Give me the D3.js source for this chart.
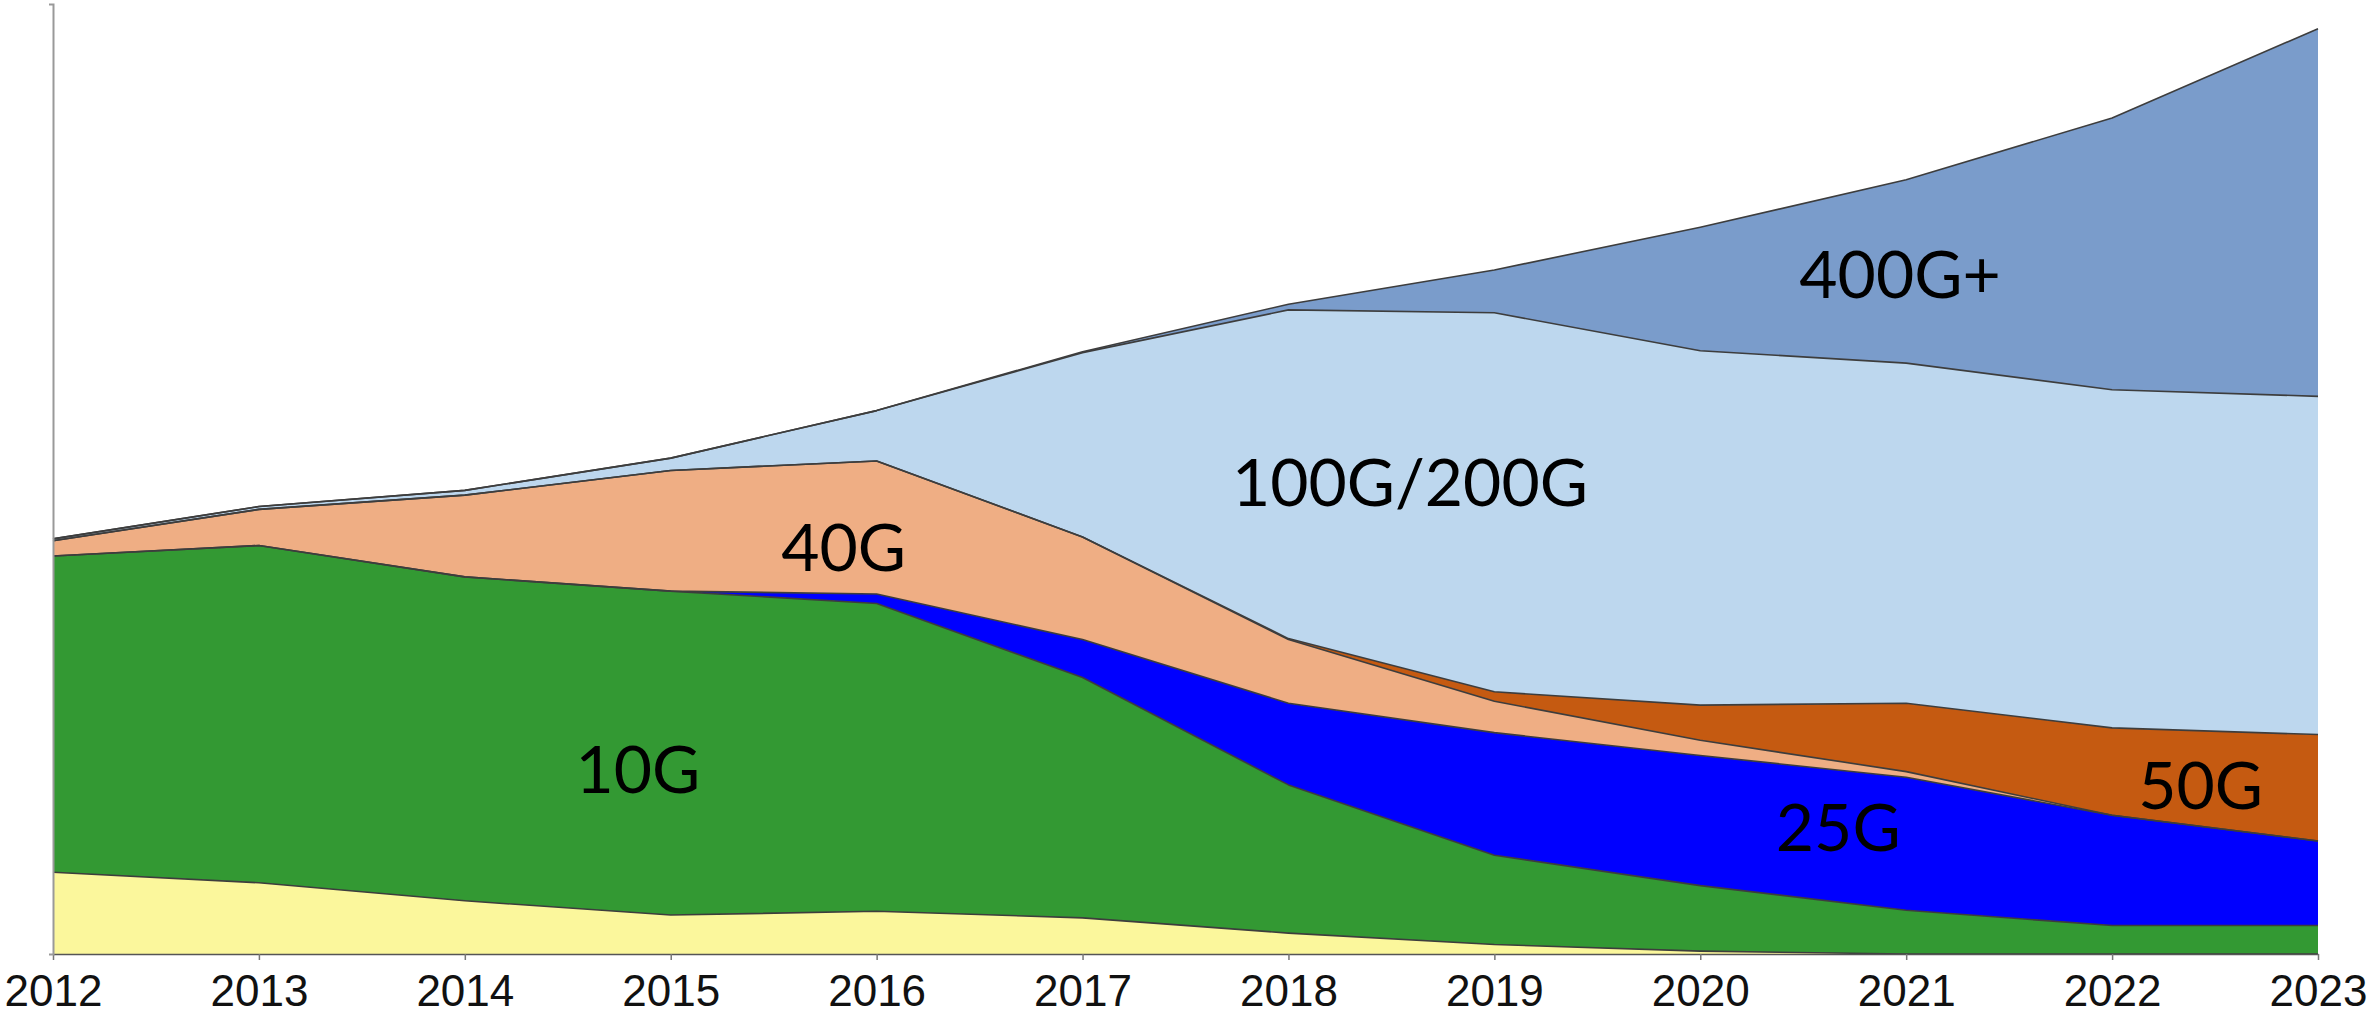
<!DOCTYPE html>
<html>
<head>
<meta charset="utf-8">
<script src="https://cdn.jsdelivr.net/npm/d3@7/dist/d3.min.js"></script>
<style>
  html, body { margin: 0; padding: 0; background: #ffffff; }
  svg { display: block; }
</style>
</head>
<body>
<svg id="chart" width="2371" height="1016"></svg>
<script>
// Port shipments by speed, stacked (share of axis height)
const years   = [2012, 2013, 2014, 2015, 2016, 2017, 2018, 2019, 2020, 2021, 2022, 2023];
const sub10G  = [8.6, 7.5, 5.6, 4.1, 4.5, 3.8, 2.2, 1.0, 0.3, 0.0, 0.0, 0.0];
const g10     = [33.3, 35.5, 34.1, 34.1, 32.4, 25.3, 15.6, 9.4, 6.9, 4.6, 3.0, 3.0];
const g25     = [0.0, 0.0, 0.0, 0.0, 1.0, 4.0, 8.6, 12.9, 13.7, 14.0, 11.6, 8.9];
const g40     = [1.6, 3.8, 8.6, 12.7, 14.0, 10.8, 6.7, 3.3, 1.6, 0.6, 0.0, 0.0];
const g50     = [0.0, 0.0, 0.0, 0.0, 0.0, 0.0, 0.1, 1.0, 3.7, 7.2, 9.2, 11.2];
const g100    = [0.2, 0.3, 0.5, 1.3, 5.3, 19.4, 34.6, 39.9, 37.3, 35.8, 35.6, 35.6];
const g400    = [0.0, 0.0, 0.0, 0.0, 0.0, 0.1, 0.6, 4.5, 13.0, 19.3, 28.6, 38.7];

const seriesKeys   = ["sub10G", "10G", "25G", "40G", "50G", "100G/200G", "400G+"];
const seriesValues = [sub10G, g10, g25, g40, g50, g100, g400];
const seriesColors = ["#fbf79c", "#339933", "#0000ff", "#efae84", "#c55a11", "#bdd7ee", "#7a9ccb"];

// In-band labels: text, anchor year, anchor value
const bandLabels = [
  { text: "400G+",     year: 2020.97, value: 71.6 },
  { text: "100G/200G", year: 2018.59, value: 49.7 },
  { text: "40G",       year: 2015.84, value: 42.8 },
  { text: "10G",       year: 2014.84, value: 19.4 },
  { text: "25G",       year: 2020.67, value: 13.3 },
  { text: "50G",       year: 2022.43, value: 17.8 }
];

const rows = years.map((yr, i) => {
  const r = { year: yr };
  seriesKeys.forEach((k, j) => { r[k] = seriesValues[j][i]; });
  return r;
});

const svg = d3.select("#chart");

const x = d3.scaleLinear().domain([2012, 2023]).range([53, 2318]);
const y = d3.scaleLinear().domain([0, 100]).range([954, 4]);

const stacked = d3.stack().keys(seriesKeys)(rows);

const area = d3.area()
  .x(d => x(d.data.year))
  .y0(d => y(d[0]))
  .y1(d => y(d[1]));

const topLine = d3.line()
  .x(d => x(d.data.year))
  .y(d => y(d[1]));

const plot = svg.append("g");

plot.selectAll("path.band")
  .data(stacked)
  .join("path")
  .attr("class", "band")
  .attr("d", area)
  .attr("fill", (d, i) => seriesColors[i]);

plot.selectAll("path.edge")
  .data(stacked)
  .join("path")
  .attr("class", "edge")
  .attr("d", topLine)
  .attr("fill", "none")
  .attr("stroke", "#3d3d3d")
  .attr("stroke-width", 1.6)
  .attr("stroke-linejoin", "round");

// Axes
const xAxis = d3.axisBottom(x)
  .tickValues(years)
  .tickFormat(d3.format("d"))
  .tickSize(6)
  .tickSizeOuter(0)
  .tickPadding(15);

const gx = svg.append("g")
  .attr("transform", `translate(0,${y(0)})`)
  .call(xAxis);
gx.select(".domain").attr("stroke", "#555").attr("stroke-width", 1.5);
gx.selectAll(".tick line").attr("stroke", "#777").attr("stroke-width", 1.5);
gx.selectAll(".tick text")
  .attr("fill", "#111")
  .attr("font-family", "'Liberation Sans', Arial, Helvetica, sans-serif")
  .attr("font-size", 44);

const yAxis = d3.axisLeft(y).tickValues([]).tickSizeOuter(4);
const gy = svg.append("g")
  .attr("transform", `translate(${x(2012)},0)`)
  .call(yAxis);
gy.select(".domain").attr("stroke", "#999").attr("stroke-width", 2);

// Band labels
svg.append("g")
  .selectAll("text")
  .data(bandLabels)
  .join("text")
  .attr("x", d => x(d.year))
  .attr("y", d => y(d.value))
  .attr("dy", "0.36em")
  .attr("text-anchor", "middle")
  .attr("font-family", "'Gill Sans', 'Gill Sans MT', Lato, sans-serif")
  .attr("font-size", 66)
  .attr("fill", "#000")
  .text(d => d.text);
</script>
</body>
</html>
